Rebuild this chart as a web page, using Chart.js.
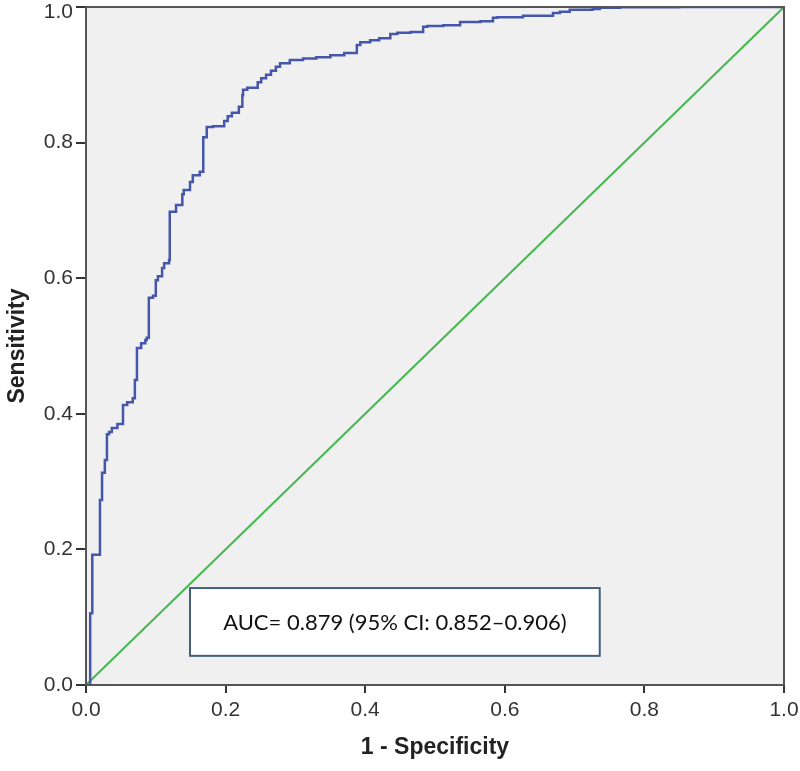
<!DOCTYPE html>
<html>
<head>
<meta charset="utf-8">
<script src="https://cdn.jsdelivr.net/npm/chart.js@4/dist/chart.umd.min.js"></script>
<style>
  html, body { margin: 0; padding: 0; background: #ffffff; }
  #wrap { width: 800px; height: 771px; position: relative; }
</style>
</head>
<body>
<div id="wrap"><canvas id="c" width="800" height="771"></canvas></div>
<script>
// ROC curve (1 - specificity, sensitivity)
const rocFPR = [0, 0.006, 0.006, 0.009, 0.009, 0.011, 0.020, 0.020, 0.023, 0.023, 0.027, 0.027, 0.030, 0.030, 0.033, 0.037, 0.045, 0.052, 0.053, 0.053, 0.059, 0.067, 0.070, 0.070, 0.073, 0.073, 0.079, 0.085, 0.087, 0.090, 0.090, 0.096, 0.100, 0.103, 0.109, 0.112, 0.119, 0.120, 0.120, 0.129, 0.138, 0.140, 0.149, 0.153, 0.163, 0.168, 0.168, 0.173, 0.182, 0.198, 0.203, 0.209, 0.219, 0.224, 0.225, 0.231, 0.246, 0.251, 0.258, 0.265, 0.272, 0.278, 0.292, 0.311, 0.330, 0.350, 0.370, 0.388, 0.393, 0.407, 0.420, 0.436, 0.446, 0.465, 0.483, 0.489, 0.512, 0.536, 0.546, 0.565, 0.583, 0.589, 0.607, 0.626, 0.632, 0.669, 0.679, 0.693, 0.726, 0.736, 0.765, 0.850, 0.944, 1.0];
const rocTPR = [0, 0, 0.106, 0.106, 0.174, 0.192, 0.192, 0.273, 0.273, 0.313, 0.313, 0.329, 0.332, 0.364, 0.370, 0.373, 0.379, 0.385, 0.385, 0.409, 0.413, 0.417, 0.423, 0.445, 0.450, 0.494, 0.497, 0.504, 0.509, 0.512, 0.565, 0.571, 0.574, 0.597, 0.603, 0.615, 0.622, 0.627, 0.693, 0.698, 0.708, 0.724, 0.730, 0.742, 0.752, 0.757, 0.799, 0.808, 0.823, 0.824, 0.832, 0.839, 0.844, 0.853, 0.870, 0.878, 0.881, 0.889, 0.895, 0.900, 0.906, 0.912, 0.917, 0.922, 0.924, 0.926, 0.929, 0.932, 0.944, 0.948, 0.951, 0.954, 0.960, 0.962, 0.963, 0.971, 0.972, 0.973, 0.978, 0.978, 0.979, 0.984, 0.985, 0.985, 0.987, 0.987, 0.991, 0.993, 0.996, 0.997, 0.999, 0.9995, 1.0, 1.0];
// reference diagonal
const refX = [0, 1];
const refY = [0, 1];
// tick labels
const tickValues = [0, 0.2, 0.4, 0.6, 0.8, 1.0];
const tickLabels = ['0.0', '0.2', '0.4', '0.6', '0.8', '1.0'];
// texts
const xTitle = '1 - Specificity';
const yTitle = 'Sensitivity';
const aucText = 'AUC= 0.879 (95% CI: 0.852\u20130.906)';
// annotation box extent in data units
const boxX = [0.149, 0.736];
const boxY = [0.043, 0.143];

const rocPoints = rocFPR.map((x, i) => ({x: x, y: rocTPR[i]}));
const refPoints = refX.map((x, i) => ({x: x, y: refY[i]}));

const tickFont = {family: '"Liberation Sans", Arial, sans-serif', size: 21};
const titleFont = {family: '"Liberation Sans", Arial, sans-serif', size: 23, weight: 'bold'};

function labelFor(v, isY) {
  for (let i = 0; i < tickValues.length; i++) {
    if (Math.abs(tickValues[i] - v) < 1e-6) {
      // top y label is drawn by the plugin, nudged down to fit the canvas
      if (isY && i === tickValues.length - 1) return '';
      return tickLabels[i];
    }
  }
  return '';
}

const framePlugin = {
  id: 'frame',
  beforeDatasetsDraw(chart) {
    const {ctx, chartArea: a} = chart;
    ctx.save();
    ctx.fillStyle = '#f0f0f0';
    ctx.fillRect(a.left, a.top, a.right - a.left, a.bottom - a.top);
    ctx.restore();
  },
  afterDatasetsDraw(chart) {
    const {ctx, chartArea: a, scales} = chart;
    ctx.save();
    // frame
    ctx.strokeStyle = '#555555';
    ctx.lineWidth = 2;
    ctx.strokeRect(a.left, a.top, a.right - a.left, a.bottom - a.top);
    // annotation box
    const x1 = scales.x.getPixelForValue(boxX[0]);
    const x2 = scales.x.getPixelForValue(boxX[1]);
    const y1 = scales.y.getPixelForValue(boxY[1]);
    const y2 = scales.y.getPixelForValue(boxY[0]);
    ctx.fillStyle = '#ffffff';
    ctx.fillRect(x1, y1, x2 - x1, y2 - y1);
    ctx.strokeStyle = '#42607e';
    ctx.lineWidth = 2;
    ctx.strokeRect(x1, y1, x2 - x1, y2 - y1);
    ctx.fillStyle = '#111111';
    ctx.font = '22px Lato, "Open Sans", sans-serif';
    ctx.textAlign = 'center';
    ctx.textBaseline = 'middle';
    ctx.fillText(aucText, (x1 + x2) / 2, (y1 + y2) / 2 + 1);
    // top y tick label
    const yTop = scales.y.getPixelForValue(tickValues[tickValues.length - 1]);
    ctx.fillStyle = '#333333';
    ctx.font = '21px "Liberation Sans", Arial, sans-serif';
    ctx.textAlign = 'right';
    ctx.textBaseline = 'middle';
    ctx.fillText(tickLabels[tickLabels.length - 1], a.left - 13, Math.max(yTop, 12));
    ctx.restore();
  }
};

new Chart(document.getElementById('c'), {
  type: 'scatter',
  data: {
    datasets: [
      {
        data: refPoints,
        showLine: true,
        borderColor: '#45b84f',
        borderWidth: 2,
        pointRadius: 0,
        fill: false,
        order: 2
      },
      {
        data: rocPoints,
        showLine: true,
        stepped: 'after',
        borderColor: '#4557aa',
        borderWidth: 2.5,
        pointRadius: 0,
        fill: false,
        order: 1
      }
    ]
  },
  options: {
    responsive: false,
    animation: false,
    devicePixelRatio: 1,
    layout: {padding: {left: 0, right: 16, top: 7, bottom: 0}},
    plugins: {legend: {display: false}, tooltip: {enabled: false}},
    scales: {
      x: {
        type: 'linear',
        min: 0, max: 1,
        afterBuildTicks(scale) { scale.ticks = tickValues.map(v => ({value: v})); },
        afterFit(scale) { scale.height = 86; scale.paddingLeft = 0; scale.paddingRight = 0; },
        ticks: {
          callback: (v) => labelFor(v, false),
          font: tickFont, color: '#333333', padding: 5, maxRotation: 0
        },
        grid: {drawOnChartArea: false, drawTicks: true, tickLength: 8, color: '#333333', lineWidth: 2},
        border: {display: true, color: '#333333', width: 2},
        title: {display: true, text: xTitle, font: titleFont, color: '#222222', padding: {top: 0, bottom: 10}}
      },
      y: {
        type: 'linear',
        min: 0, max: 1,
        afterBuildTicks(scale) { scale.ticks = tickValues.map(v => ({value: v})); },
        afterFit(scale) { scale.width = 86; scale.paddingTop = 0; scale.paddingBottom = 0; },
        ticks: {
          callback: (v) => labelFor(v, true),
          font: tickFont, color: '#333333', padding: 3
        },
        grid: {drawOnChartArea: false, drawTicks: true, tickLength: 10, color: '#333333', lineWidth: 2},
        border: {display: true, color: '#333333', width: 2},
        title: {display: true, text: yTitle, font: titleFont, color: '#222222', padding: {top: 4, bottom: 0}}
      }
    }
  },
  plugins: [framePlugin]
});
</script>
</body>
</html>
